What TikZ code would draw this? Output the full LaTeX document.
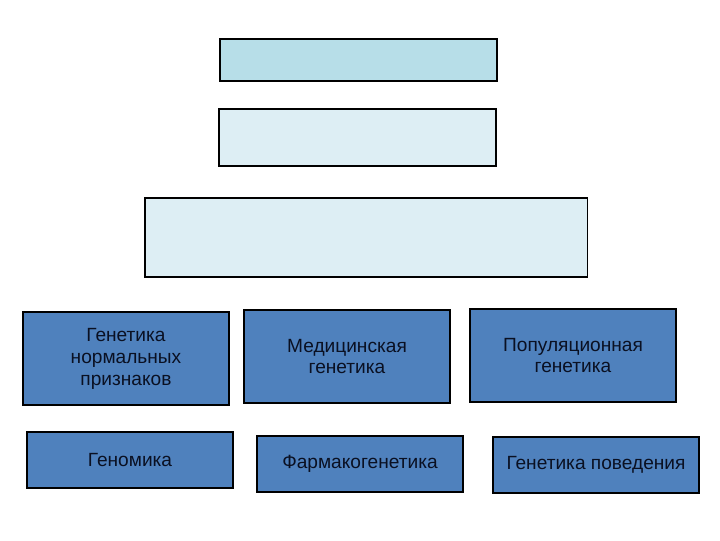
\documentclass[tikz,border=0pt]{standalone}
\usepackage{fontspec}
\setmainfont{Liberation Sans}
\usepackage{xcolor}
\usepackage{tikz}
\definecolor{kop}{RGB}{183,222,232}
\definecolor{licht}{RGB}{221,238,244}
\definecolor{tak}{RGB}{79,129,189}
\definecolor{tekst}{RGB}{10,16,34}

\begin{document}
\begin{tikzpicture}[x=0.025cm, y=-0.025cm, font=\fontsize{13.6}{15.6}\selectfont,
                blok/.style={draw, line width=0.8pt, inner sep=0pt},
                tak1/.style={blok, fill=tak, text=tekst, minimum width=5.15cm, minimum height=2.325cm, align=center},
                tak2/.style={blok, fill=tak, text=tekst, minimum width=5.15cm, minimum height=1.4cm}]

            \useasboundingbox (0, 0) rectangle (720, 540);

            % bovenste blokken
            \node[blok, fill=kop, minimum width=6.925cm, minimum height=1.05cm] (top) at (358.5, 60) {};
            \node[blok, fill=licht, minimum width=6.925cm, minimum height=1.425cm] (mid) at (357.5, 137.5) {};
            \node[blok, fill=licht, minimum width=11.05cm, minimum height=1.975cm] (breed) at (366, 237.5) {};

            % eerste rij
            \node[tak1] (normaal) at (126, 358.5) {Генетика\\нормальных\\признаков};
            \node[tak1] (medisch) at (347, 356.5) {Медицинская\\генетика};
            \node[tak1] (populatie) at (573, 355.5) {Популяционная\\генетика};

            % tweede rij
            \node[tak2] (genomika) at (130, 460) {Геномика};
            \node[tak2] (farmaco) at (360, 464) {Фармакогенетика};
            \node[tak2] (gedrag) at (596, 465) {Генетика поведения};

        \end{tikzpicture}
\end{document}
